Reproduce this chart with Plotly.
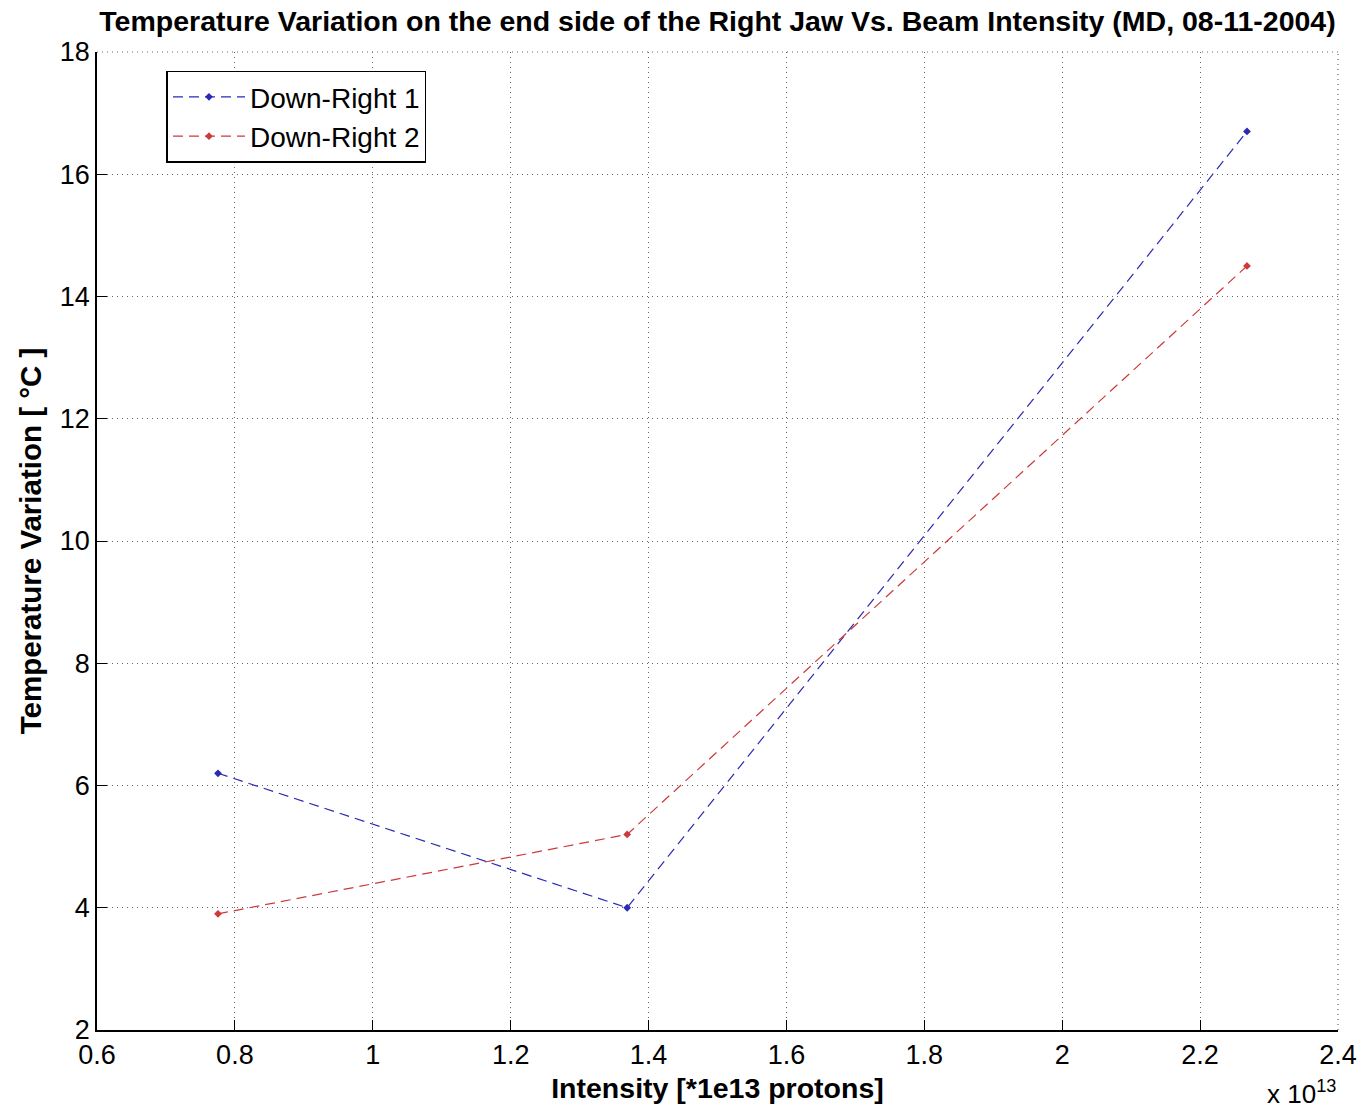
import plotly.graph_objects as go

intensity = [0.7755, 1.369, 2.268]  # x 1e13 protons
down_right_1 = [6.2, 4.0, 16.7]
down_right_2 = [3.9, 5.2, 14.5]
x_ticks = [0.6, 0.8, 1.0, 1.2, 1.4, 1.6, 1.8, 2.0, 2.2, 2.4]
x_tick_labels = ["0.6", "0.8", "1", "1.2", "1.4", "1.6", "1.8", "2", "2.2", "2.4"]
y_ticks = [2, 4, 6, 8, 10, 12, 14, 16, 18]

blue = "#2a2ab4"
red = "#cc3a3a"
grid = "#666666"

fig = go.Figure()
fig.add_trace(go.Scatter(x=intensity, y=down_right_1, mode="lines+markers", name="Down-Right 1",
                         line=dict(color=blue, width=1.2, dash="10px,6px"),
                         marker=dict(symbol="diamond", size=6, color=blue)))
fig.add_trace(go.Scatter(x=intensity, y=down_right_2, mode="lines+markers", name="Down-Right 2",
                         line=dict(color=red, width=1.2, dash="10px,6px"),
                         marker=dict(symbol="diamond", size=6, color=red)))

font = "Arial, Liberation Sans, sans-serif"
fig.update_layout(
    width=1372, height=1114,
    margin=dict(l=97, r=34, t=52, b=84),
    paper_bgcolor="white", plot_bgcolor="white",
    font=dict(family=font, size=27, color="black"),
    title=dict(text="<b>Temperature Variation on the end side of the Right Jaw Vs. Beam Intensity (MD, 08-11-2004)</b>",
               xref="paper", x=0.5, xanchor="center", y=0.981, yanchor="middle", font=dict(size=28.5)),
    legend=dict(x=0.056, y=0.981, xanchor="left", yanchor="top", bgcolor="white",
                bordercolor="black", borderwidth=1.5, font=dict(size=28),
                tracegroupgap=0, itemwidth=72, entrywidth=200),
    xaxis=dict(range=[0.6, 2.4], tickvals=x_ticks, ticktext=x_tick_labels,
               showgrid=True, gridcolor=grid, griddash="1px,4px", gridwidth=1.2,
               showline=True, linecolor="black", linewidth=1.5, mirror=False,
               ticks="inside", ticklen=10, tickcolor="black", zeroline=False,
               title=dict(text="<b>Intensity [*1e13 protons]</b>", font=dict(size=28.5), standoff=9)),
    yaxis=dict(range=[2, 18], tickvals=y_ticks,
               showgrid=True, gridcolor=grid, griddash="1px,4px", gridwidth=1.2,
               showline=True, linecolor="black", linewidth=1.5, mirror=False,
               ticks="inside", ticklen=10, tickcolor="black", zeroline=False,
               title=dict(text="<b>Temperature Variation [ °C ]</b>", font=dict(size=29.5), standoff=9)),
    showlegend=True,
)
# dotted frame lines at the top and right edges (MATLAB grid at axis limits)
fig.add_shape(type="line", xref="paper", yref="paper", x0=0, x1=1, y0=1, y1=1,
              line=dict(color=grid, width=1.2, dash="1px,4px"))
fig.add_shape(type="line", xref="paper", yref="paper", x0=1, x1=1, y0=0, y1=1,
              line=dict(color=grid, width=1.2, dash="1px,4px"))
fig.add_annotation(text="x 10<sup>13</sup>", xref="paper", yref="paper", x=1.0, y=-0.083,
                   xanchor="right", yanchor="bottom", showarrow=False, font=dict(size=26))

fig.write_html("out.html")
